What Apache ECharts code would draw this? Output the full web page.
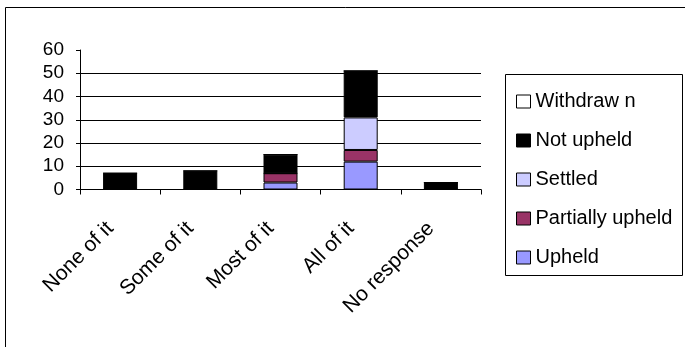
<!DOCTYPE html>
<html>
<head>
<meta charset="utf-8">
<script src="https://cdn.jsdelivr.net/npm/echarts@6/dist/echarts.min.js"></script>
<style>
  html, body { margin: 0; padding: 0; background: #fff; }
  #chart { width: 685px; height: 347px; }
</style>
</head>
<body>
<div id="chart"></div>
<script>
// Categories along the x axis
const categories = ['None of it', 'Some of it', 'Most of it', 'All of it', 'No response'];

// Complaint outcomes per category (stacked bottom to top)
const upheld          = [0, 0, 3, 12, 0];
const partiallyUpheld = [0, 0, 4, 5, 0];
const settled         = [0, 0, 0, 14, 0];
const notUpheld       = [7, 8, 8, 20, 3];
const withdrawn       = [0, 0, 0, 0, 0];

// Value axis ticks
const yMin = 0, yMax = 60, yStep = 10;

const FONT = '"Liberation Sans", Arial, sans-serif';

const seriesDefs = [
  { name: 'Upheld',           data: upheld,          color: '#9999FF' },
  { name: 'Partially upheld', data: partiallyUpheld, color: '#993366' },
  { name: 'Settled',          data: settled,         color: '#CCCCFF' },
  { name: 'Not upheld',       data: notUpheld,       color: '#000000' },
  { name: 'Withdraw n',       data: withdrawn,       color: '#FFFFFF' }
];

const chart = echarts.init(document.getElementById('chart'), null, { renderer: 'canvas' });

chart.setOption({
  animation: false,
  backgroundColor: '#fff',
  grid: { left: 80, right: 204, top: 50, bottom: 157.5 },
  legend: {
    orient: 'vertical',
    left: 511,
    top: 86,
    itemWidth: 14,
    itemHeight: 13,
    itemGap: 18,
    icon: 'rect',
    data: ['Withdraw n', 'Not upheld', 'Settled', 'Partially upheld', 'Upheld'],
    textStyle: { fontFamily: FONT, fontSize: 20, color: '#000', lineHeight: 21 },
    itemStyle: { borderColor: '#000', borderWidth: 1 }
  },
  xAxis: {
    type: 'category',
    data: categories,
    boundaryGap: true,
    axisLine: { lineStyle: { color: '#000', width: 1 } },
    axisTick: { show: true, length: 5, alignWithLabel: false, lineStyle: { color: '#000' } },
    axisLabel: {
      interval: 0,
      rotate: 45,
      margin: 26,
      padding: [0, 14, 0, 0],
      fontFamily: FONT,
      fontSize: 21,
      color: '#000'
    }
  },
  yAxis: {
    type: 'value',
    min: yMin,
    max: yMax,
    interval: yStep,
    axisLine: { show: true, lineStyle: { color: '#000', width: 1 } },
    axisTick: { show: true, length: 4, lineStyle: { color: '#000' } },
    axisLabel: { fontFamily: FONT, fontSize: 19, color: '#000', margin: 16 },
    splitLine: { show: true, showMinLine: false, showMaxLine: false, lineStyle: { color: '#000', width: 1 } }
  },
  series: seriesDefs.map(s => ({
    name: s.name,
    type: 'bar',
    stack: 'total',
    barWidth: 34,
    data: s.data,
    itemStyle: { color: s.color, borderColor: '#000', borderWidth: 1 }
  })),
  graphic: [
    {
      type: 'rect',
      silent: true,
      shape: { x: 5.5, y: 7.5, width: 700, height: 400 },
      style: { fill: 'none', stroke: '#000', lineWidth: 1 }
    },
    {
      type: 'rect',
      silent: true,
      z: -1,
      shape: { x: 505.5, y: 74.5, width: 177, height: 201 },
      style: { fill: '#fff', stroke: '#000', lineWidth: 1 }
    }
  ]
});
</script>
</body>
</html>
